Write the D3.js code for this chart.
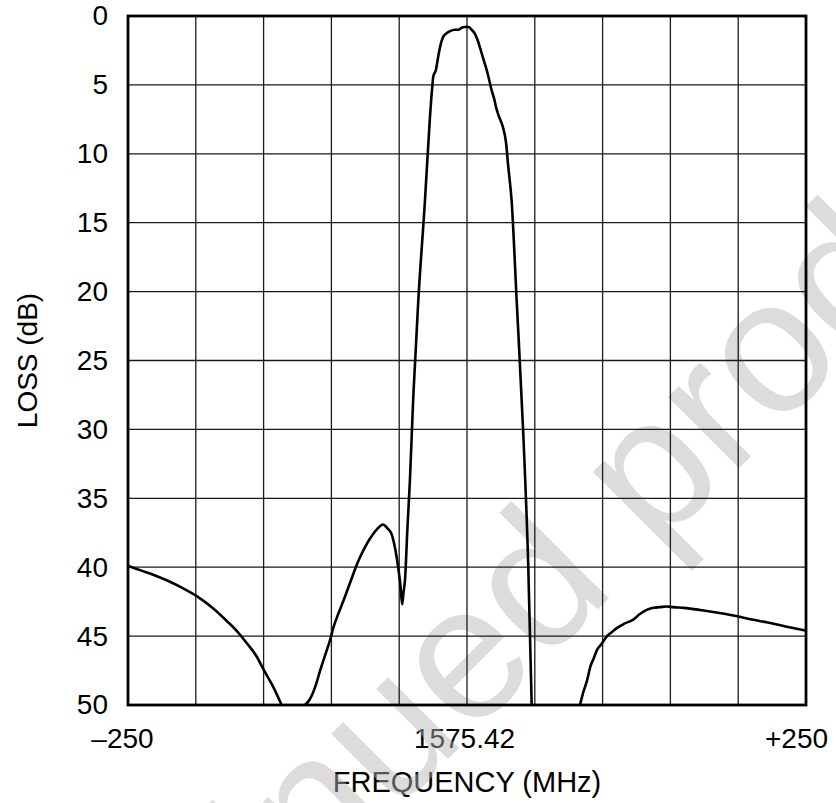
<!DOCTYPE html>
<html>
<head>
<meta charset="utf-8">
<script src="https://cdn.jsdelivr.net/npm/d3@7"></script>
<style>
  html, body { margin: 0; padding: 0; background: #fff; }
  svg { display: block; }
  text { font-family: "Liberation Sans", Arial, Helvetica, sans-serif; }
</style>
</head>
<body>
<svg id="chart" width="836" height="803"></svg>
<script>
// ---- Data (frequency offset from 1575.42 MHz, loss in dB); null = trace leaves the plot bottom
const freqOffset = [
  -250, -240, -230, -221.5, -210, -199.3, -187.1, -177.2, -170, -162.5, -155, -150.2, -142.8, -136.7,
  null,
  -119.5, -116, -112, -108, -104, -101, -98.6, -95, -91, -88, -85, -82, -79, -75, -70, -66, -62,
  -58.5, -55.6, -53.5, -52, -50.5, -49.2, -47.8, -46.8, -45.7, -44.0, -42.1, -39.6, -35.9, -31.0,
  -27.3, -25.5, -24.9, -22.9, -21.5, -20.4, -17.5, -15, -12.5, -9, -6.4, -4, -1.5, 1, 3.5, 5.9,
  8, 9.6, 12, 14.5, 16.5, 18.2, 20, 21.9, 24, 26.3, 28.8, 30.4, 32.9, 36.6, 41.5, 45.2, 47.7,
  null,
  83.3, 86, 88.6, 91, 93.5, 95.9, 99, 103.3, 107, 110.7, 116, 122.6, 127.5, 132.5, 137.5, 142.3,
  147, 152, 160, 172, 185, 196.4, 210, 221, 235, 249.5
];
const lossDb = [
  39.9, 40.25, 40.6, 40.95, 41.5, 42.1, 43.0, 43.9, 44.6, 45.5, 46.5, 47.4, 48.7, 50,
  null,
  50, 49.6, 48.7, 47.4, 46.2, 45.3, 44.4, 43.4, 42.4, 41.6, 40.8, 40.0, 39.3, 38.5, 37.7, 37.2, 36.9,
  37.2, 37.6, 38.4, 39.2, 40.2, 41.2, 42.7, 41.8, 40.9, 37.3, 33.7, 27.6, 20.6, 13.4,
  7.3, 5.0, 4.4, 3.9, 3.1, 2.5, 1.5, 1.25, 1.1, 1.0, 1.0, 0.85, 0.8, 0.8, 1.0, 1.3,
  1.8, 2.3, 3.1, 3.9, 4.7, 5.4, 6.0, 6.8, 7.4, 8.0, 9.2, 10.9, 13.4, 20.6, 30.3, 40.0, 50,
  null,
  50, 49.0, 48.2, 47.2, 46.6, 46.0, 45.6, 45.0, 44.7, 44.4, 44.1, 43.8, 43.4, 43.1, 42.95, 42.9,
  42.85, 42.9, 42.95, 43.1, 43.3, 43.5, 43.8, 44.0, 44.3, 44.6
];
const xTickValues = [-250, 0, 250];
const xTickLabels = ["\u2013250", "1575.42", "+250"];
const xGridValues = [-250, -200, -150, -100, -50, 0, 50, 100, 150, 200, 250];
const yTickValues = [0, 5, 10, 15, 20, 25, 30, 35, 40, 45, 50];
const xTitle = "FREQUENCY (MHz)";
const yTitle = "LOSS (dB)";
const watermark = "Discontinued product";

// ---- Layout
const W = 836, H = 803;
const m = { left: 128, right: 30, top: 16, bottom: 98 };
const pw = W - m.left - m.right, ph = H - m.top - m.bottom;
const xLabelShift = [-6, -3, -10];

const svg = d3.select("#chart");
const x = d3.scaleLinear().domain([-250, 250]).range([m.left, m.left + pw]);
const y = d3.scaleLinear().domain([0, 50]).range([m.top, m.top + ph]);

// Tick labels (drawn first; watermark overlays them)
const yAxis = svg.append("g").attr("transform", `translate(${m.left},0)`)
  .call(d3.axisLeft(y).tickValues(yTickValues).tickSize(0).tickPadding(20).tickFormat(d3.format("d")));
yAxis.select(".domain").remove();
yAxis.selectAll("text").attr("font-size", 28).attr("fill", "#000")
  .attr("font-family", "Liberation Sans, Arial, sans-serif");

const xAxis = svg.append("g").attr("transform", `translate(0,${m.top + ph})`)
  .call(d3.axisBottom(x).tickValues(xTickValues).tickSize(0).tickPadding(23)
    .tickFormat((d, i) => xTickLabels[i]));
xAxis.select(".domain").remove();
xAxis.selectAll("text").attr("font-size", 28).attr("fill", "#000")
  .attr("font-family", "Liberation Sans, Arial, sans-serif")
  .attr("dx", (d, i) => xLabelShift[i]);

svg.append("text").attr("x", x(0)).attr("y", 792).attr("text-anchor", "middle")
  .attr("font-size", 29).text(xTitle);
svg.append("text").attr("transform", `translate(37,${m.top + ph / 2}) rotate(-90)`)
  .attr("text-anchor", "middle").attr("font-size", 28).text(yTitle);

// Watermark
svg.append("text").attr("transform", "translate(472,735) rotate(-45)")
  .attr("text-anchor", "middle").attr("font-size", 190)
  .attr("fill", "#b4b4b4").attr("fill-opacity", 0.47).text(watermark);

// Grid
const grid = svg.append("g").attr("stroke", "#1a1a1a").attr("stroke-width", 1.3);
grid.selectAll("line.v").data(xGridValues).join("line")
  .attr("x1", d => x(d)).attr("x2", d => x(d)).attr("y1", m.top).attr("y2", m.top + ph);
grid.selectAll("line.h").data(yTickValues).join("line")
  .attr("x1", m.left).attr("x2", m.left + pw).attr("y1", d => y(d)).attr("y2", d => y(d));

// Trace
const pts = freqOffset.map((f, i) => ({ f, l: lossDb[i] }));
svg.append("defs").append("clipPath").attr("id", "clip")
  .append("rect").attr("x", m.left).attr("y", m.top).attr("width", pw).attr("height", ph);
svg.append("path").datum(pts).attr("clip-path", "url(#clip)")
  .attr("fill", "none").attr("stroke", "#000").attr("stroke-width", 2.6)
  .attr("stroke-linejoin", "round")
  .attr("d", d3.line().defined(d => d.f !== null && d.l !== null)
    .x(d => x(d.f)).y(d => y(d.l)).curve(d3.curveMonotoneX));

// Frame
svg.append("rect").attr("x", m.left).attr("y", m.top).attr("width", pw).attr("height", ph)
  .attr("fill", "none").attr("stroke", "#000").attr("stroke-width", 2.8);
</script>
</body>
</html>
